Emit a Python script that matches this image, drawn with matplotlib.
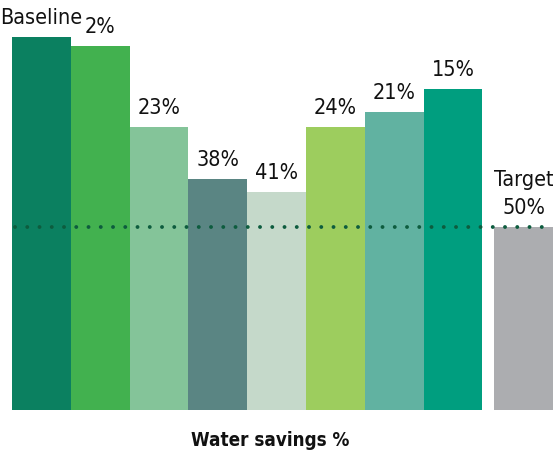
import matplotlib
matplotlib.use("Agg")
import matplotlib.pyplot as plt

plt.rcParams['font.family'] = ['DejaVu Sans']
plt.rcParams['font.stretch'] = 'condensed'

# data (bar heights relative to baseline = 100)
labels = ["Baseline", "2%", "23%", "38%", "41%", "24%", "21%", "15%", "Target\n50%"]
heights = [100, 97.5, 76, 62, 58.5, 76, 80, 86, 49]
colors = ["#0b8060", "#42b14f", "#84c499", "#5a8583", "#c5d9ca",
          "#9dcd5e", "#61b2a1", "#009e7f", "#acadb0"]
target_line = 49
xlabel = "Water savings %"

px = 3.73  # pixels per unit
fig = plt.figure(figsize=(5.53, 4.58), dpi=100)
ax = fig.add_axes([12/553, 48/458, 541/553, 410/458])

xs = [i for i in range(8)] + [8.2]
ax.bar(xs, heights, width=1.0, align='edge', color=colors, linewidth=0)

for x, h, lab in zip(xs, heights, labels):
    ax.text(x + 0.5, h + 9/px, lab, ha='center', va='bottom',
            fontsize=15.5, color='#111111', linespacing=1.5,
            stretch='condensed')

ax.plot([0.05, 9.4], [target_line, target_line], color='#0d5c3e',
        linewidth=2.8, linestyle=(0, (0.01, 3.14)), dash_capstyle='round',
        zorder=5)

ax.set_xlim(0, 9.2)
ax.set_ylim(0, 410/px)
ax.axis('off')

fig.text(270/553, 1 - 440/458, xlabel, ha='center', va='center',
         fontsize=13.5, fontweight='bold', color='#111111', stretch='condensed')

fig.savefig("out.png", dpi=100)
